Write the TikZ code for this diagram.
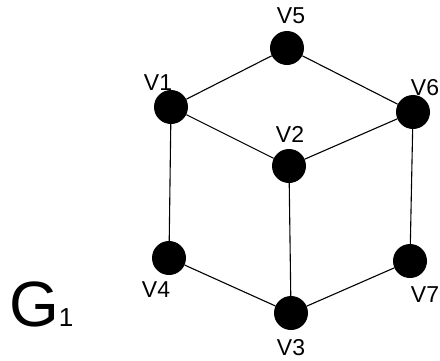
\documentclass[tikz,border=0pt]{standalone}
\usepackage{fontspec}
\setmainfont{Liberation Sans}

\begin{document}
\begin{tikzpicture}
  [x=1pt, y=-1pt,
   vertex/.style={fill=black, circle, inner sep=0pt, minimum size=34pt},
   vlabel/.style={anchor=base, inner sep=0pt, font=\fontsize{23}{23}\selectfont},
   edge/.style={line width=1.1pt}]
  \useasboundingbox (0,0) rectangle (440,360);
  % the seven vertices
  \node[vertex] (v1) at (171,107) {};
  \node[vertex] (v2) at (289,166) {};
  \node[vertex] (v3) at (291,313) {};
  \node[vertex] (v4) at (169,258) {};
  \node[vertex] (v5) at (287,48) {};
  \node[vertex] (v6) at (413,112) {};
  \node[vertex] (v7) at (410,261) {};
  % their names
  \node[vlabel] (l1) at (158,90) {V1};
  \node[vlabel] (l2) at (290,142) {V2};
  \node[vlabel] (l3) at (291,355) {V3};
  \node[vlabel] (l4) at (156,297) {V4};
  \node[vlabel] (l5) at (291,23) {V5};
  \node[vlabel] (l6) at (425,95) {V6};
  \node[vlabel] (l7) at (425,302) {V7};
  % edges
  \draw[edge] (v1) -- (v5) -- (v6);
  \draw[edge] (v1) -- (v2) -- (v6);
  \draw[edge] (v1) -- (v4) -- (v3);
  \draw[edge] (v6) -- (v7) -- (v3);
  \draw[edge] (v2) -- (v3);
  % graph name
  \node[anchor=base west, inner sep=0pt, font=\fontsize{64}{64}\selectfont] (g1)
    at (9,326) {G{\fontsize{26}{26}\selectfont 1}};
\end{tikzpicture}
\end{document}
